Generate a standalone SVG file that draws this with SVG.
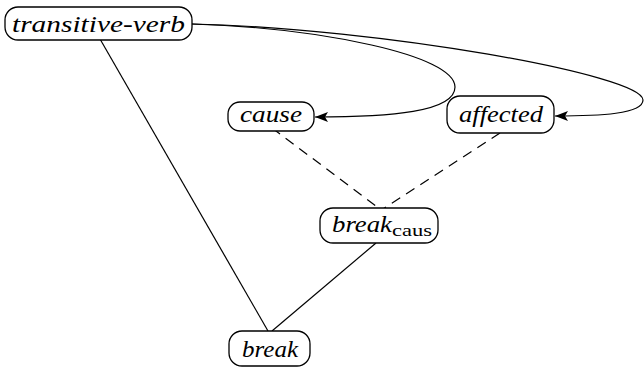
<svg xmlns="http://www.w3.org/2000/svg" width="644" height="371" viewBox="0 0 644 371">
<style>
.box{fill:#fff;stroke:#000;stroke-width:1.3}
.e{fill:none;stroke:#000;stroke-width:1.2}
.d{stroke-dasharray:10 7}
</style>
<defs>
<marker id="ah" markerWidth="14" markerHeight="10" refX="13" refY="5" orient="auto" markerUnits="userSpaceOnUse">
<path d="M0,0 L13,5 L0,10 L3,5 Z" fill="#000"/>
</marker>
</defs>
<g id="edges">
<path class="e" d="M100,39 L268,331"/>
<path class="e" d="M376,243 L272,331"/>
<path class="e d" d="M272,128 L380,209"/>
<path class="e d" d="M500,133 L383,209"/>
<path class="e" marker-end="url(#ah)" d="M192,24 C320,28 455,55 455,87 C455,112 390,117 315,117"/>
<path class="e" marker-end="url(#ah)" d="M192,24 C380,28 643,75 643,100 C643,114 600,116 555,116"/>
</g>
<g font-family="Liberation Serif, Times New Roman, serif" font-size="23" font-style="italic" fill="#000">
<g id="n-transitive-verb">
<rect class="box" x="5" y="7" width="187" height="33" rx="13"/>
<text x="12" y="32" textLength="173" lengthAdjust="spacingAndGlyphs">transitive-verb</text>
</g>
<g id="n-cause">
<rect class="box" x="228" y="102" width="86" height="29" rx="12"/>
<text x="240" y="122" textLength="62" lengthAdjust="spacingAndGlyphs">cause</text>
</g>
<g id="n-affected">
<rect class="box" x="447" y="96" width="107" height="37" rx="13"/>
<text x="459" y="122" textLength="84" lengthAdjust="spacingAndGlyphs">affected</text>
</g>
<g id="n-break-caus">
<rect class="box" x="320" y="208" width="118" height="35" rx="13"/>
<text x="332" y="232" textLength="60" lengthAdjust="spacingAndGlyphs">break</text>
<text x="392" y="236" font-size="16" font-style="normal" textLength="40" lengthAdjust="spacingAndGlyphs">caus</text>
</g>
<g id="n-break">
<rect class="box" x="229" y="331" width="81" height="35" rx="13"/>
<text x="242" y="357" textLength="56" lengthAdjust="spacingAndGlyphs">break</text>
</g>
</g>
</svg>
